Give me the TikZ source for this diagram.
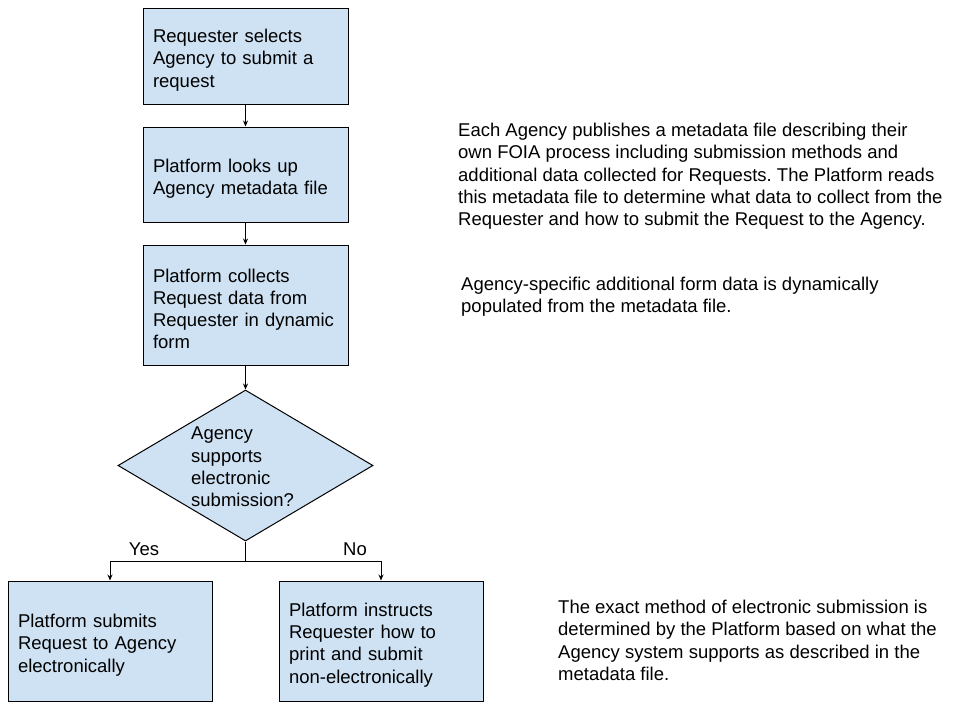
\documentclass[tikz,border=0pt]{standalone}
\usepackage{fontspec}
\setmainfont{Liberation Sans}
\usetikzlibrary{shapes.geometric,arrows.meta}
\definecolor{boxfill}{HTML}{CFE2F3}
\frenchspacing
\newcommand{\topgap}{\rule{0pt}{21.5pt}}
\tikzset{
  stepbox/.style={draw=black, line width=1pt, fill=boxfill, rectangle,
    minimum width=205pt, text width=185pt, inner sep=10pt, align=left,
    font=\fontsize{18.5}{22.2}\selectfont},
  decide/.style={draw=black, line width=1pt, fill=boxfill, diamond,
    minimum width=255pt, minimum height=151pt, inner sep=0pt},
  plain/.style={align=left, inner sep=0pt, font=\fontsize{18.5}{22.2}\selectfont},
  arr/.style={line width=1pt, -{Stealth[length=6pt,width=5pt]}},
}
\begin{document}
\begin{tikzpicture}[x=1pt,y=-1pt]
\useasboundingbox[fill=white] (0,0) rectangle (960,720);
\node[stepbox, minimum height=96pt] (b1) at (245.5,56) {\topgap Requester selects\\Agency to submit a\\request};
\node[stepbox, minimum height=95pt] (b2) at (245.5,174.5) {\topgap Platform looks up\\Agency metadata file};
\node[stepbox, minimum height=120pt] (b3) at (245.5,305) {\topgap Platform collects\\Request data from\\Requester in dynamic\\form};
\node[decide] (d) at (245.5,465.5) {};
\node[plain, anchor=west] (dt) at (191,467) {Agency\\supports\\electronic\\submission?};
\node[stepbox, minimum width=204pt, text width=184pt, minimum height=120pt] (b4) at (110,641) {\topgap Platform submits\\Request to Agency\\electronically};
\node[stepbox, minimum width=204pt, text width=184pt, minimum height=120pt] (b5) at (381,641) {\topgap Platform instructs\\Requester how to\\print and submit\\non-electronically};
\coordinate (br) at (245.5,561);
\draw[arr] (b1.south) -- (b2.north);
\draw[arr] (b2.south) -- (b3.north);
\draw[arr] (b3.south) -- (d.north);
\draw[line width=1pt] (d.south) -- (br);
\draw[arr] (br) -| (b4.north);
\draw[arr] (br) -| (b5.north);
\node[plain] (yes) at (144,549) {Yes};
\node[plain] (no) at (355,549) {No};
\node[plain, anchor=north west] (n1) at (458,123) {Each Agency publishes a metadata file describing their\\own FOIA process including submission methods and\\additional data collected for Requests. The Platform reads\\this metadata file to determine what data to collect from the\\Requester and how to submit the Request to the Agency.};
\node[plain, anchor=north west] (n2) at (461,277) {Agency-specific additional form data is dynamically\\populated from the metadata file.};
\node[plain, anchor=north west] (n3) at (558,600) {The exact method of electronic submission is\\determined by the Platform based on what the\\Agency system supports as described in the\\metadata file.};
\end{tikzpicture}
\end{document}
